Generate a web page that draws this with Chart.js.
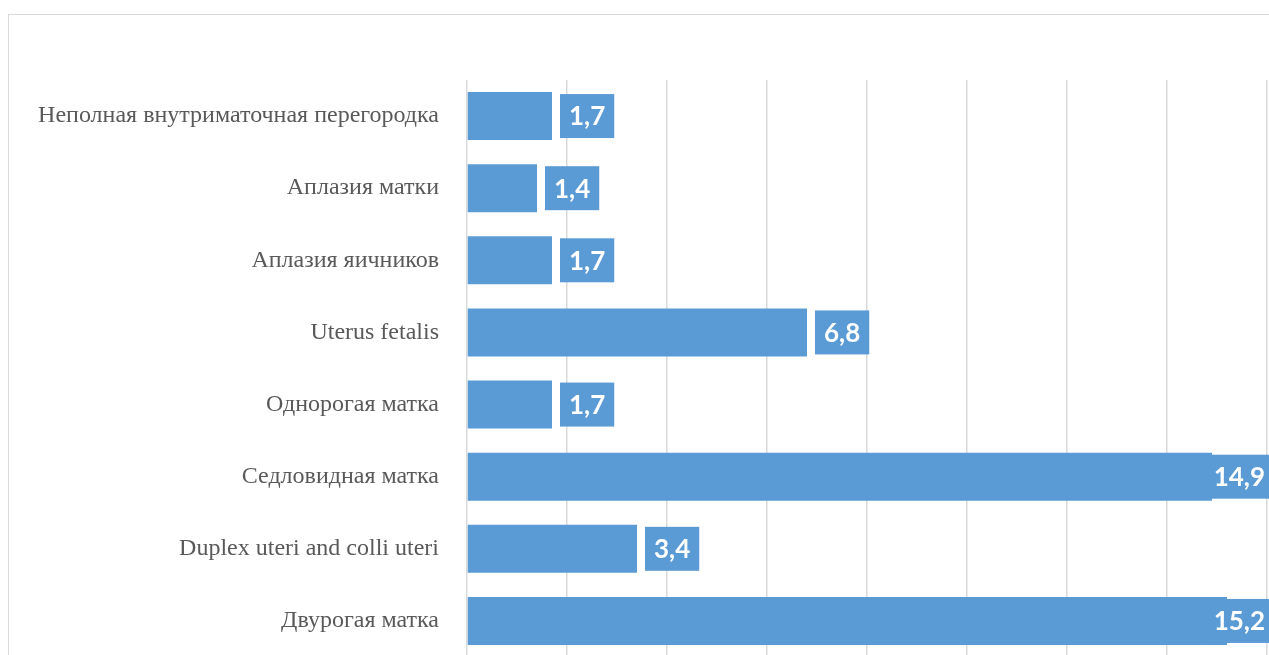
<!DOCTYPE html>
<html>
<head>
<meta charset="utf-8">
<script src="https://cdn.jsdelivr.net/npm/chart.js@4"></script>
<style>
    html, body { margin: 0; padding: 0; background: #fff; overflow: hidden; }
    #wrap { width: 1280px; height: 670px; }
</style>
</head>
<body>
<div id="wrap">
    <canvas id="anomalyChart" width="1280" height="670"></canvas>
</div>
<script>
// Anomaly types, top to bottom
const categories = [
    'Неполная внутриматочная перегородка',
    'Аплазия матки',
    'Аплазия яичников',
    'Uterus fetalis',
    'Однорогая матка',
    'Седловидная матка',
    'Duplex uteri and colli uteri',
    'Двурогая матка'
];

// Share of cases, %
const shares = [1.7, 1.4, 1.7, 6.8, 1.7, 14.9, 3.4, 15.2];

const xTicks = [0, 2, 4, 6, 8, 10, 12, 14, 16];

const BAR_COLOR = '#5b9bd5';

// Thin outer frame of the chart object
const framePlugin = {
    id: 'frame',
    beforeDraw(chart) {
        const ctx = chart.ctx;
        ctx.save();
        ctx.strokeStyle = '#d9d9d9';
        ctx.lineWidth = 1;
        ctx.strokeRect(8.5, 14.5, chart.width + 20, chart.height + 20);
        ctx.restore();
    }
};

// Value labels: white bold text in a filled box just past the bar end
const valueBoxPlugin = {
    id: 'valueBox',
    afterDatasetsDraw(chart) {
        const ctx = chart.ctx;
        const meta = chart.getDatasetMeta(0);
        const area = chart.chartArea;
        ctx.save();
        ctx.font = 'bold 26px Lato, "Open Sans", sans-serif';
        ctx.textBaseline = 'middle';
        ctx.textAlign = 'left';
        meta.data.forEach((bar, i) => {
            const text = shares[i].toFixed(1).replace('.', ',');
            const w = ctx.measureText(text).width + 18;
            const h = 44;
            let left = bar.x + 8;
            if (left + w > area.right + 7) {
                left = area.right + 7 - w;
            }
            ctx.fillStyle = BAR_COLOR;
            ctx.fillRect(left, bar.y - h / 2, w, h);
            ctx.fillStyle = '#ffffff';
            ctx.fillText(text, left + 9, bar.y + 1);
        });
        ctx.restore();
    }
};

const ctx = document.getElementById('anomalyChart').getContext('2d');
new Chart(ctx, {
    type: 'bar',
    data: {
        labels: categories,
        datasets: [{
            data: shares,
            backgroundColor: BAR_COLOR,
            borderWidth: 0,
            categoryPercentage: 1,
            barPercentage: 0.667
        }]
    },
    options: {
        indexAxis: 'y',
        responsive: false,
        maintainAspectRatio: false,
        animation: false,
        layout: {
            padding: { top: 80, right: 13, bottom: 13, left: 0 }
        },
        plugins: {
            legend: { display: false },
            tooltip: { enabled: false }
        },
        scales: {
            x: {
                min: 0,
                max: 16,
                afterBuildTicks(scale) {
                    scale.ticks = xTicks.map(v => ({ value: v }));
                },
                afterFit(scale) {
                    scale.height = 0;
                    scale.paddingLeft = 0;
                    scale.paddingRight = 0;
                },
                grid: {
                    color: '#d9d9d9',
                    lineWidth: 1.5,
                    drawTicks: false
                },
                border: { display: false },
                ticks: { display: false }
            },
            y: {
                afterFit(scale) {
                    scale.width = 467;
                    scale.paddingTop = 0;
                    scale.paddingBottom = 0;
                },
                grid: { display: false, drawTicks: false },
                border: { display: false },
                ticks: {
                    padding: 28,
                    color: '#595959',
                    font: { family: '"Liberation Serif", "Times New Roman", serif', size: 24 }
                }
            }
        }
    },
    plugins: [framePlugin, valueBoxPlugin]
});
</script>
</body>
</html>
